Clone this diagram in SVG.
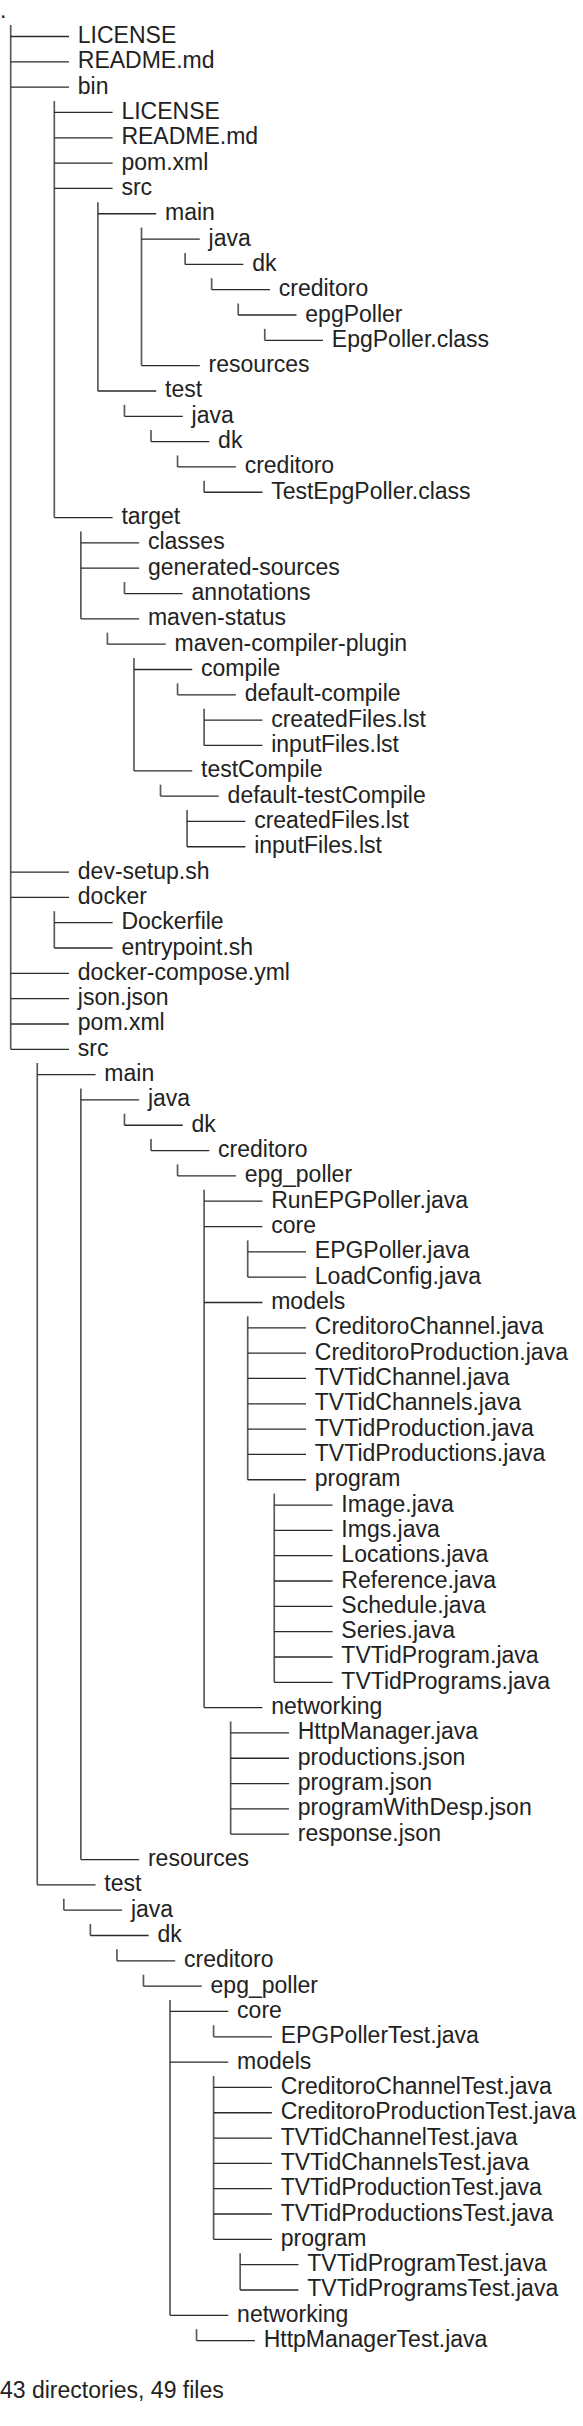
<svg xmlns="http://www.w3.org/2000/svg" width="583" height="2426" viewBox="0 0 583 2426">
<style>
text{font-family:"Liberation Sans",Arial,sans-serif;font-size:23px;fill:#222}
.v{stroke:#5a5a5a;stroke-width:1.7;fill:none}
.h{stroke:#2a2a2a;stroke-width:1.3;fill:none}
</style>
<rect width="583" height="2426" fill="#fff"/>
<g id="connectors">
<path class="v" d="M10.7 25V1049.3"/>
<path class="h" d="M10.7 36.5H69M10.7 61.82H69M10.7 87.14H69M10.7 872.06H69M10.7 897.38H69M10.7 973.34H69M10.7 998.66H69M10.7 1023.98H69M10.7 1049.3H69"/>
<path class="v" d="M54.3 101V517.58"/>
<path class="h" d="M54.3 112.46H112.6M54.3 137.78H112.6M54.3 163.1H112.6M54.3 188.42H112.6M54.3 517.58H112.6"/>
<path class="v" d="M97.9 202.24V390.98"/>
<path class="h" d="M97.9 213.74H156.2M97.9 390.98H156.2"/>
<path class="v" d="M141.5 227.56V365.66"/>
<path class="h" d="M141.5 239.06H199.8M141.5 365.66H199.8"/>
<path class="v" d="M185.1 252.88V264.38"/>
<path class="h" d="M185.1 264.38H243.4"/>
<path class="v" d="M211.65 278.2V289.7"/>
<path class="h" d="M211.65 289.7H269.95"/>
<path class="v" d="M238.2 303.52V315.02"/>
<path class="h" d="M238.2 315.02H296.5"/>
<path class="v" d="M264.75 328.84V340.34"/>
<path class="h" d="M264.75 340.34H323.05"/>
<path class="v" d="M124.45 404.8V416.3"/>
<path class="h" d="M124.45 416.3H182.75"/>
<path class="v" d="M151 430.12V441.62"/>
<path class="h" d="M151 441.62H209.3"/>
<path class="v" d="M177.55 455.44V466.94"/>
<path class="h" d="M177.55 466.94H235.85"/>
<path class="v" d="M204.1 480.76V492.26"/>
<path class="h" d="M204.1 492.26H262.4"/>
<path class="v" d="M80.85 531.4V618.86"/>
<path class="h" d="M80.85 542.9H139.15M80.85 568.22H139.15M80.85 618.86H139.15"/>
<path class="v" d="M124.45 582.04V593.54"/>
<path class="h" d="M124.45 593.54H182.75"/>
<path class="v" d="M107.4 632.68V644.18"/>
<path class="h" d="M107.4 644.18H165.7"/>
<path class="v" d="M133.95 658V770.78"/>
<path class="h" d="M133.95 669.5H192.25M133.95 770.78H192.25"/>
<path class="v" d="M177.55 683.32V694.82"/>
<path class="h" d="M177.55 694.82H235.85"/>
<path class="v" d="M204.1 708.64V745.46"/>
<path class="h" d="M204.1 720.14H262.4M204.1 745.46H262.4"/>
<path class="v" d="M160.5 784.6V796.1"/>
<path class="h" d="M160.5 796.1H218.8"/>
<path class="v" d="M187.05 809.92V846.74"/>
<path class="h" d="M187.05 821.42H245.35M187.05 846.74H245.35"/>
<path class="v" d="M54.3 911.2V948.02"/>
<path class="h" d="M54.3 922.7H112.6M54.3 948.02H112.6"/>
<path class="v" d="M37.25 1063.12V1884.86"/>
<path class="h" d="M37.25 1074.62H95.55M37.25 1884.86H95.55"/>
<path class="v" d="M80.85 1088.44V1859.54"/>
<path class="h" d="M80.85 1099.94H139.15M80.85 1859.54H139.15"/>
<path class="v" d="M124.45 1113.76V1125.26"/>
<path class="h" d="M124.45 1125.26H182.75"/>
<path class="v" d="M151 1139.08V1150.58"/>
<path class="h" d="M151 1150.58H209.3"/>
<path class="v" d="M177.55 1164.4V1175.9"/>
<path class="h" d="M177.55 1175.9H235.85"/>
<path class="v" d="M204.1 1189.72V1707.62"/>
<path class="h" d="M204.1 1201.22H262.4M204.1 1226.54H262.4M204.1 1302.5H262.4M204.1 1707.62H262.4"/>
<path class="v" d="M247.7 1240.36V1277.18"/>
<path class="h" d="M247.7 1251.86H306M247.7 1277.18H306"/>
<path class="v" d="M247.7 1316.32V1479.74"/>
<path class="h" d="M247.7 1327.82H306M247.7 1353.14H306M247.7 1378.46H306M247.7 1403.78H306M247.7 1429.1H306M247.7 1454.42H306M247.7 1479.74H306"/>
<path class="v" d="M274.25 1493.56V1682.3"/>
<path class="h" d="M274.25 1505.06H332.55M274.25 1530.38H332.55M274.25 1555.7H332.55M274.25 1581.02H332.55M274.25 1606.34H332.55M274.25 1631.66H332.55M274.25 1656.98H332.55M274.25 1682.3H332.55"/>
<path class="v" d="M230.65 1721.44V1834.22"/>
<path class="h" d="M230.65 1732.94H288.95M230.65 1758.26H288.95M230.65 1783.58H288.95M230.65 1808.9H288.95M230.65 1834.22H288.95"/>
<path class="v" d="M63.8 1898.68V1910.18"/>
<path class="h" d="M63.8 1910.18H122.1"/>
<path class="v" d="M90.35 1924V1935.5"/>
<path class="h" d="M90.35 1935.5H148.65"/>
<path class="v" d="M116.9 1949.32V1960.82"/>
<path class="h" d="M116.9 1960.82H175.2"/>
<path class="v" d="M143.45 1974.64V1986.14"/>
<path class="h" d="M143.45 1986.14H201.75"/>
<path class="v" d="M170 1999.96V2315.3"/>
<path class="h" d="M170 2011.46H228.3M170 2062.1H228.3M170 2315.3H228.3"/>
<path class="v" d="M213.6 2025.28V2036.78"/>
<path class="h" d="M213.6 2036.78H271.9"/>
<path class="v" d="M213.6 2075.92V2239.34"/>
<path class="h" d="M213.6 2087.42H271.9M213.6 2112.74H271.9M213.6 2138.06H271.9M213.6 2163.38H271.9M213.6 2188.7H271.9M213.6 2214.02H271.9M213.6 2239.34H271.9"/>
<path class="v" d="M240.15 2253.16V2289.98"/>
<path class="h" d="M240.15 2264.66H298.45M240.15 2289.98H298.45"/>
<path class="v" d="M196.55 2329.12V2340.62"/>
<path class="h" d="M196.55 2340.62H254.85"/>
</g>
<g id="root"><text x="0" y="17.68">.</text></g>
<g id="n01"><text x="77.8" y="43">LICENSE</text></g>
<g id="n02"><text x="77.8" y="68.32">README.md</text></g>
<g id="n03"><text x="77.8" y="93.64">bin</text></g>
<g id="n04"><text x="121.4" y="118.96">LICENSE</text></g>
<g id="n05"><text x="121.4" y="144.28">README.md</text></g>
<g id="n06"><text x="121.4" y="169.6">pom.xml</text></g>
<g id="n07"><text x="121.4" y="194.92">src</text></g>
<g id="n08"><text x="165" y="220.24">main</text></g>
<g id="n09"><text x="208.6" y="245.56">java</text></g>
<g id="n10"><text x="252.2" y="270.88">dk</text></g>
<g id="n11"><text x="278.75" y="296.2">creditoro</text></g>
<g id="n12"><text x="305.3" y="321.52">epgPoller</text></g>
<g id="n13"><text x="331.85" y="346.84">EpgPoller.class</text></g>
<g id="n14"><text x="208.6" y="372.16">resources</text></g>
<g id="n15"><text x="165" y="397.48">test</text></g>
<g id="n16"><text x="191.55" y="422.8">java</text></g>
<g id="n17"><text x="218.1" y="448.12">dk</text></g>
<g id="n18"><text x="244.65" y="473.44">creditoro</text></g>
<g id="n19"><text x="271.2" y="498.76">TestEpgPoller.class</text></g>
<g id="n20"><text x="121.4" y="524.08">target</text></g>
<g id="n21"><text x="147.95" y="549.4">classes</text></g>
<g id="n22"><text x="147.95" y="574.72">generated-sources</text></g>
<g id="n23"><text x="191.55" y="600.04">annotations</text></g>
<g id="n24"><text x="147.95" y="625.36">maven-status</text></g>
<g id="n25"><text x="174.5" y="650.68">maven-compiler-plugin</text></g>
<g id="n26"><text x="201.05" y="676">compile</text></g>
<g id="n27"><text x="244.65" y="701.32">default-compile</text></g>
<g id="n28"><text x="271.2" y="726.64">createdFiles.lst</text></g>
<g id="n29"><text x="271.2" y="751.96">inputFiles.lst</text></g>
<g id="n30"><text x="201.05" y="777.28">testCompile</text></g>
<g id="n31"><text x="227.6" y="802.6">default-testCompile</text></g>
<g id="n32"><text x="254.15" y="827.92">createdFiles.lst</text></g>
<g id="n33"><text x="254.15" y="853.24">inputFiles.lst</text></g>
<g id="n34"><text x="77.8" y="878.56">dev-setup.sh</text></g>
<g id="n35"><text x="77.8" y="903.88">docker</text></g>
<g id="n36"><text x="121.4" y="929.2">Dockerfile</text></g>
<g id="n37"><text x="121.4" y="954.52">entrypoint.sh</text></g>
<g id="n38"><text x="77.8" y="979.84">docker-compose.yml</text></g>
<g id="n39"><text x="77.8" y="1005.16">json.json</text></g>
<g id="n40"><text x="77.8" y="1030.48">pom.xml</text></g>
<g id="n41"><text x="77.8" y="1055.8">src</text></g>
<g id="n42"><text x="104.35" y="1081.12">main</text></g>
<g id="n43"><text x="147.95" y="1106.44">java</text></g>
<g id="n44"><text x="191.55" y="1131.76">dk</text></g>
<g id="n45"><text x="218.1" y="1157.08">creditoro</text></g>
<g id="n46"><text x="244.65" y="1182.4">epg_poller</text></g>
<g id="n47"><text x="271.2" y="1207.72">RunEPGPoller.java</text></g>
<g id="n48"><text x="271.2" y="1233.04">core</text></g>
<g id="n49"><text x="314.8" y="1258.36">EPGPoller.java</text></g>
<g id="n50"><text x="314.8" y="1283.68">LoadConfig.java</text></g>
<g id="n51"><text x="271.2" y="1309">models</text></g>
<g id="n52"><text x="314.8" y="1334.32">CreditoroChannel.java</text></g>
<g id="n53"><text x="314.8" y="1359.64">CreditoroProduction.java</text></g>
<g id="n54"><text x="314.8" y="1384.96">TVTidChannel.java</text></g>
<g id="n55"><text x="314.8" y="1410.28">TVTidChannels.java</text></g>
<g id="n56"><text x="314.8" y="1435.6">TVTidProduction.java</text></g>
<g id="n57"><text x="314.8" y="1460.92">TVTidProductions.java</text></g>
<g id="n58"><text x="314.8" y="1486.24">program</text></g>
<g id="n59"><text x="341.35" y="1511.56">Image.java</text></g>
<g id="n60"><text x="341.35" y="1536.88">Imgs.java</text></g>
<g id="n61"><text x="341.35" y="1562.2">Locations.java</text></g>
<g id="n62"><text x="341.35" y="1587.52">Reference.java</text></g>
<g id="n63"><text x="341.35" y="1612.84">Schedule.java</text></g>
<g id="n64"><text x="341.35" y="1638.16">Series.java</text></g>
<g id="n65"><text x="341.35" y="1663.48">TVTidProgram.java</text></g>
<g id="n66"><text x="341.35" y="1688.8">TVTidPrograms.java</text></g>
<g id="n67"><text x="271.2" y="1714.12">networking</text></g>
<g id="n68"><text x="297.75" y="1739.44">HttpManager.java</text></g>
<g id="n69"><text x="297.75" y="1764.76">productions.json</text></g>
<g id="n70"><text x="297.75" y="1790.08">program.json</text></g>
<g id="n71"><text x="297.75" y="1815.4">programWithDesp.json</text></g>
<g id="n72"><text x="297.75" y="1840.72">response.json</text></g>
<g id="n73"><text x="147.95" y="1866.04">resources</text></g>
<g id="n74"><text x="104.35" y="1891.36">test</text></g>
<g id="n75"><text x="130.9" y="1916.68">java</text></g>
<g id="n76"><text x="157.45" y="1942">dk</text></g>
<g id="n77"><text x="184" y="1967.32">creditoro</text></g>
<g id="n78"><text x="210.55" y="1992.64">epg_poller</text></g>
<g id="n79"><text x="237.1" y="2017.96">core</text></g>
<g id="n80"><text x="280.7" y="2043.28">EPGPollerTest.java</text></g>
<g id="n81"><text x="237.1" y="2068.6">models</text></g>
<g id="n82"><text x="280.7" y="2093.92">CreditoroChannelTest.java</text></g>
<g id="n83"><text x="280.7" y="2119.24">CreditoroProductionTest.java</text></g>
<g id="n84"><text x="280.7" y="2144.56">TVTidChannelTest.java</text></g>
<g id="n85"><text x="280.7" y="2169.88">TVTidChannelsTest.java</text></g>
<g id="n86"><text x="280.7" y="2195.2">TVTidProductionTest.java</text></g>
<g id="n87"><text x="280.7" y="2220.52">TVTidProductionsTest.java</text></g>
<g id="n88"><text x="280.7" y="2245.84">program</text></g>
<g id="n89"><text x="307.25" y="2271.16">TVTidProgramTest.java</text></g>
<g id="n90"><text x="307.25" y="2296.48">TVTidProgramsTest.java</text></g>
<g id="n91"><text x="237.1" y="2321.8">networking</text></g>
<g id="n92"><text x="263.65" y="2347.12">HttpManagerTest.java</text></g>
<g id="summary"><text x="0" y="2397.8">43 directories, 49 files</text></g>
</svg>
